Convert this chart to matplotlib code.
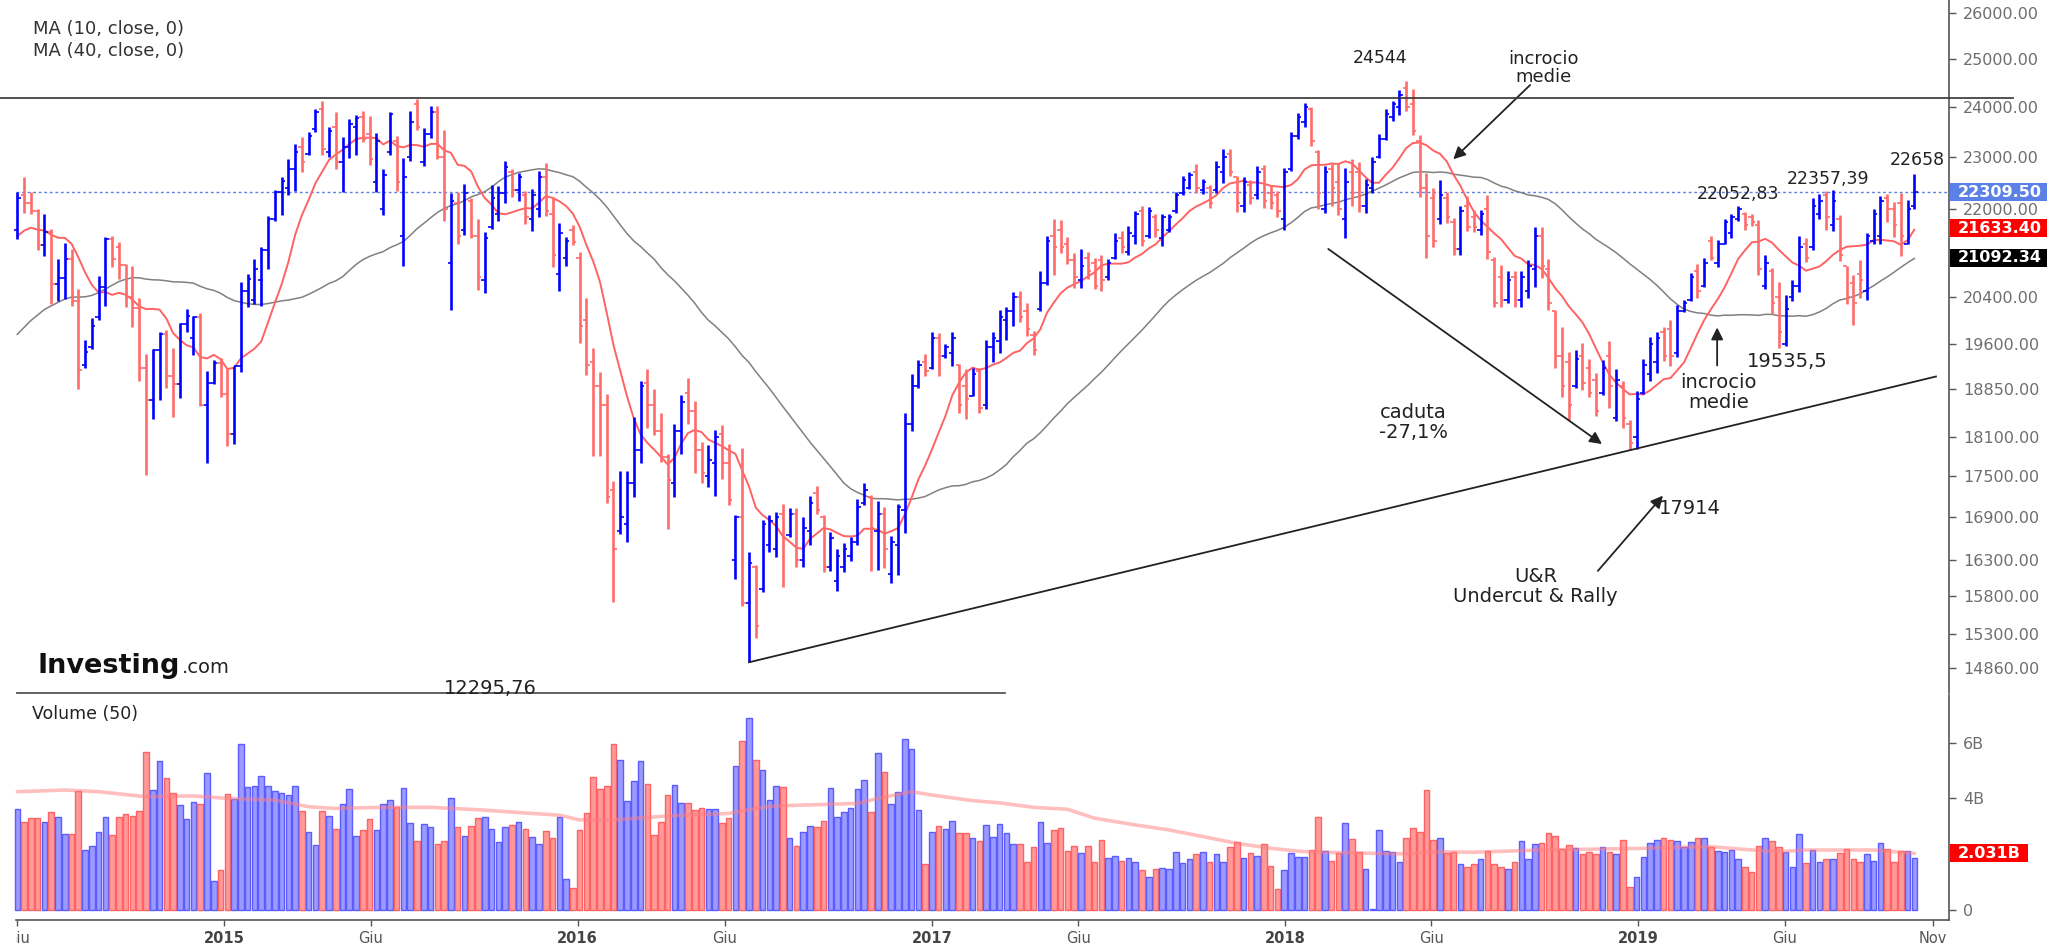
import numpy as np
import pandas as pd
import matplotlib
matplotlib.use("Agg")
import matplotlib.pyplot as plt
from matplotlib.ticker import NullLocator, FixedLocator
from matplotlib.transforms import Bbox, TransformedBbox
from matplotlib.lines import Line2D
from matplotlib.patches import Rectangle

# ---------------- data (weekly bars, FTSE MIB) ----------------
first_week = "2014-06-01"

opens = [
    21600, 22250, 22100, 21950, 21330, 21560, 20620, 20736, 21077, 20338,
    19250, 19550, 20050, 20581, 21438, 21300, 20970, 20408, 20201, 19198,
    18683, 19493, 19759, 19067, 18940, 19930, 19700, 20050, 18604, 18959,
    19282, 18779, 18152, 19231, 20512, 20350, 20700, 21236, 21805, 22315,
    22400, 22750, 23200, 23050, 23550, 23950, 23100, 23600, 22900, 23200,
    23600, 23800, 23450, 22500, 22000, 23100, 23300, 21500, 23000, 24050,
    22900, 23450, 23900, 23000, 21000, 22100, 21600, 22150, 21500, 20700,
    21650, 21900, 22300, 22700, 22350, 22250, 21800, 22000, 22600, 21900,
    20800, 21100, 21600, 21100, 20000, 19300, 18900, 18600, 17300, 16700,
    16800, 17400, 17900, 18950, 18600, 18200, 17800, 17400, 18200, 18800,
    18500, 17900, 17500, 17700, 18150, 17700, 16300, 16900, 15700, 16200,
    15900, 16500, 16450, 16950, 16650, 16950, 16300, 16700, 17250, 16900,
    16200, 16000, 16200, 16350, 16550, 17100, 17200, 16700, 16950, 16100,
    16500, 17000, 18300, 18900, 19300, 19200, 19700, 19400, 19450, 19250,
    18900, 18750, 19150, 18600, 19550, 19650, 20000, 20150, 20400, 20150,
    19750, 20200, 20650, 21500, 21600, 21350, 21050, 20700, 21100, 21000,
    21050, 20750, 21100, 21450, 21200, 21500, 21950, 21500, 21850, 21450,
    21600, 21950, 22300, 22400, 22700, 22350, 22400, 22350, 22700, 23050,
    22600, 22050, 22450, 22250, 22750, 22300, 22250, 21800, 22750, 23400,
    23700, 23950, 23100, 22000, 22750, 22500, 21800, 22700, 22700, 22050,
    22400, 23000, 23350, 23800, 24000, 24400, 24050, 23300, 22400, 22200,
    21800, 22200, 21750, 21250, 22050, 21850, 21600, 22000, 21050, 20750,
    20350, 20750, 20350, 20500, 20900, 21500, 20900, 20150, 19400, 19300,
    18900, 19400, 19200, 19000, 18800, 19400, 18400, 18900, 18300, 18100,
    18800, 19100, 19300, 19800, 19850, 19450, 20150, 20350, 20850, 20600,
    21400, 21000, 21350, 21550, 21800, 21900, 21850, 21700, 20600, 20850,
    20400, 19600, 20400, 20600, 21350, 21300, 21900, 22250, 21700, 21800,
    20950, 20650, 20800, 20500, 21400, 21500, 22200, 22000, 22100, 21350,
    22050]

highs = [
    22308, 22611, 22308, 21992, 21895, 21620, 21077, 21365, 21257, 20546,
    19659, 20030, 20771, 21474, 21489, 21380, 20984, 20949, 20387, 19426,
    19506, 19793, 19826, 19526, 19950, 20186, 20077, 20131, 19151, 19328,
    19361, 19198, 19231, 20665, 20806, 21077, 21293, 21856, 22345, 22597,
    22945, 23245, 23380, 23481, 23958, 24128, 23593, 23886, 23393, 23754,
    23834, 23918, 23818, 23473, 22765, 23900, 23417, 22968, 23918, 24160,
    23561, 24022, 24022, 23520, 22292, 22308, 22467, 22201, 21805, 21562,
    22443, 22421, 22906, 22750, 22690, 22330, 22368, 22727, 22883, 22216,
    21731, 21474, 21694, 21207, 20387, 19526, 19132, 18779, 17427, 17587,
    17587, 18412, 18990, 19184, 18857, 18474, 17846, 18306, 18760, 19035,
    18665, 18028, 17981, 18215, 18290, 17998, 16937, 17938, 16409, 16228,
    16856, 16937, 16978, 17099, 17027, 17027, 16902, 17203, 17355, 16931,
    16690, 16448, 16533, 16617, 17162, 17396, 17220, 17133, 17047, 16630,
    17093, 18474, 19100, 19328, 19426, 19806, 19779, 19593, 19793, 19264,
    19177, 19198, 19198, 19659, 19793, 20179, 20235, 20491, 20510, 20300,
    19813, 20850, 21500, 21806, 21789, 21475, 21174, 21255, 21199, 21093,
    21150, 21077, 21541, 21581, 21681, 21959, 22059, 22026, 21892, 21892,
    21892, 22323, 22616, 22704, 22853, 22572, 22451, 22923, 23152, 23152,
    22623, 22598, 22538, 22817, 22835, 22442, 22340, 22773, 23483, 23874,
    24074, 24002, 23124, 22817, 22861, 22878, 22773, 22948, 22904, 22572,
    22992, 23456, 23966, 24121, 24354, 24544, 24373, 23437, 22686, 22383,
    22538, 22315, 21832, 22043, 22230, 21975, 21975, 22256, 21118, 20970,
    20850, 20850, 20850, 21053, 21665, 21665, 21069, 20182, 19889, 19458,
    19496, 19609, 19346, 19111, 19325, 19646, 19176, 18980, 18371, 18820,
    19346, 19722, 19798, 19889, 20004, 20261, 20354, 20828, 20986, 21093,
    21500, 21418, 21806, 21892, 22052, 21942, 21892, 21789, 21150, 20905,
    20668, 20433, 20692, 21500, 21459, 22195, 22280, 22340, 22357, 21875,
    20954, 20795, 21053, 21550, 22001, 22237, 22280, 22127, 22297, 22170,
    22658]

lows = [
    21438, 21917, 21895, 21236, 21130, 20270, 20338, 20373, 20248, 18855,
    19198, 19506, 19996, 20248, 20935, 20722, 20235, 19880, 18983, 17515,
    18387, 18683, 18873, 18412, 18715, 19806, 19413, 18589, 17696, 18940,
    18728, 17955, 17998, 19132, 20222, 20270, 20248, 20899, 21768, 21880,
    22255, 22330, 22691, 23023, 23497, 23039, 22984, 22750, 22308, 22968,
    23023, 23298, 22843, 22308, 21880, 23023, 22330, 20949, 22906, 23520,
    22812, 23377, 22945, 21768, 20167, 21351, 21511, 21453, 20527, 20477,
    21620, 21768, 22104, 22216, 22142, 21709, 21582, 21840, 21854, 20935,
    20512, 20949, 21329, 19612, 19087, 17815, 17815, 17111, 15713, 16656,
    16545, 17191, 17696, 18243, 18127, 17713, 16730, 17191, 17846, 18306,
    17558, 17396, 17337, 17203, 17456, 17082, 16035, 15659, 14930, 15238,
    15856, 16409, 16337, 15926, 16617, 16199, 16199, 16505, 16943, 16133,
    16144, 15862, 16127, 16281, 16505, 17082, 16144, 16161, 16183, 15982,
    16088, 16673, 18196, 18873, 19067, 19177, 19067, 19361, 19231, 18481,
    18381, 18747, 18481, 18545, 19296, 19440, 19659, 19893, 19966, 19737,
    19420, 20166, 20612, 20793, 21174, 20987, 20557, 20557, 20716, 20534,
    20510, 20692, 21069, 21174, 21150, 21337, 21313, 21460, 21475, 21313,
    21557, 21917, 22256, 22368, 22297, 22280, 22018, 22297, 22495, 22623,
    21942, 21942, 22084, 22186, 22018, 22001, 21850, 21607, 22712, 23348,
    23599, 23214, 22000, 21917, 22043, 21875, 21460, 22043, 21942, 21917,
    22297, 22974, 23331, 23710, 23830, 23920, 23420, 22212, 21093, 21296,
    21706, 21723, 21150, 21150, 21581, 21557, 21517, 21069, 20235, 20235,
    20300, 20235, 20235, 20379, 20573, 20732, 20182, 19199, 18727, 18371,
    18871, 18834, 18727, 18420, 18762, 18547, 18350, 18245, 17896, 17914,
    18776, 18980, 19111, 19311, 19239, 19385, 20143, 20323, 20377, 20573,
    21053, 20929, 21337, 21460, 21772, 21607, 21673, 20793, 20534, 20103,
    19535, 19557, 20339, 20494, 21013, 21231, 21808, 21607, 21581, 21036,
    20278, 19912, 20377, 20354, 21337, 21337, 21748, 21475, 21134, 21337,
    22001]

closes = [
    22200, 22100, 21950, 21330, 21560, 20620, 20736, 21077, 20338, 19164,
    19459, 19893, 20581, 21438, 21077, 20970, 20408, 20201, 19198, 18683,
    19493, 19759, 19067, 18940, 19930, 20080, 20050, 18604, 18959, 19282,
    18779, 18152, 19231, 20512, 20722, 20900, 21236, 21805, 22315, 22520,
    22750, 23100, 22900, 23400, 23900, 23150, 23500, 22900, 23200, 23650,
    23780, 23350, 22950, 23300, 22650, 23850, 22500, 22600, 23700, 23600,
    23450, 23900, 23000, 22000, 22150, 21500, 22300, 21500, 20750, 21450,
    22200, 22300, 22800, 22350, 22600, 21850, 22250, 22600, 21950, 21150,
    21550, 21400, 21380, 19900, 19250, 18900, 18600, 17200, 16450, 16900,
    17400, 17900, 18900, 18600, 18200, 17800, 17450, 18200, 18650, 18500,
    17900, 17550, 17750, 18100, 17700, 17150, 16900, 15700, 16250, 15400,
    16800, 16850, 16900, 16600, 16950, 16300, 16750, 17100, 17000, 16200,
    16600, 16350, 16450, 16550, 17050, 17300, 16750, 16950, 16450, 16550,
    17050, 18300, 18900, 19250, 19150, 19700, 19400, 19550, 19700, 18600,
    18700, 19100, 18550, 19550, 19700, 20050, 20150, 20400, 20050, 19850,
    19500, 20650, 21400, 21300, 21300, 21050, 20750, 20950, 20850, 20600,
    20700, 21000, 21400, 21300, 21550, 21900, 21400, 21950, 21600, 21850,
    21850, 22250, 22550, 22650, 22400, 22500, 22100, 22800, 23000, 22700,
    22100, 22500, 22200, 22700, 22150, 22100, 21950, 22700, 23400, 23800,
    24000, 23300, 22300, 22700, 22400, 22000, 22500, 22300, 22050, 22450,
    22900, 23350, 23850, 24050, 24250, 24000, 23500, 22400, 21500, 21400,
    22250, 21850, 21250, 21950, 21650, 21650, 21900, 21200, 20300, 20350,
    20700, 20350, 20750, 20950, 21500, 20950, 20300, 19400, 18900, 18600,
    19350, 18950, 18800, 18500, 19200, 18900, 19000, 18400, 18000, 18700,
    19250, 19600, 19700, 19400, 19400, 20150, 20300, 20750, 20500, 21000,
    21100, 21350, 21750, 21850, 22000, 21700, 21750, 20900, 21000, 20300,
    19800, 20200, 20600, 21300, 21100, 22050, 22150, 21850, 22150, 21150,
    20400, 20300, 20700, 21500, 21900, 22150, 22000, 21700, 21500, 22000,
    22309.5]

# closes of the 39 weeks before the first visible bar (needed by the 40-week average)
pre_closes = [
    17400, 17300, 17500, 17800, 18100, 18400, 18700, 19000, 19100, 19300,
    18900, 18700, 18800, 18500, 18300, 18800, 19100, 19300, 19600, 20000,
    19900, 19600, 19700, 20000, 20400, 20600, 20800, 20700, 20400, 20800,
    21100, 21400, 21700, 21700, 21400, 21300, 21100, 21400, 21600]

volumes_bn = [
    3.61, 3.16, 3.29, 3.29, 3.16, 3.50, 3.35, 2.72, 2.72, 4.25,
    2.15, 2.29, 2.81, 3.32, 2.69, 3.32, 3.43, 3.37, 3.55, 5.67,
    4.30, 5.34, 4.72, 4.20, 3.76, 3.25, 3.86, 3.81, 4.90, 1.04,
    1.42, 4.16, 3.99, 5.94, 4.40, 4.46, 4.80, 4.46, 4.27, 4.20,
    4.11, 4.46, 3.55, 2.81, 2.33, 3.55, 3.37, 2.90, 3.80, 4.34,
    2.65, 2.87, 3.26, 2.87, 3.80, 3.94, 3.69, 4.39, 3.11, 2.47,
    3.08, 2.99, 2.38, 2.47, 4.03, 2.99, 2.65, 3.02, 3.31, 3.34,
    2.90, 2.43, 2.99, 3.04, 3.15, 2.90, 2.60, 2.38, 2.84, 2.59,
    3.34, 1.11, 0.78, 2.85, 3.46, 4.75, 4.34, 4.46, 5.94, 5.37,
    3.90, 4.62, 5.33, 4.50, 2.68, 3.15, 4.11, 4.49, 3.85, 3.85,
    3.58, 3.64, 3.63, 3.61, 3.11, 3.29, 5.16, 6.07, 6.87, 5.37,
    5.02, 3.94, 4.46, 4.42, 2.59, 2.29, 2.81, 3.02, 2.99, 3.19,
    4.37, 3.32, 3.50, 3.67, 4.33, 4.67, 3.51, 5.64, 4.95, 3.80,
    4.24, 6.14, 5.76, 3.58, 1.65, 2.81, 3.02, 2.89, 3.20, 2.75,
    2.75, 2.59, 2.49, 3.04, 2.63, 3.07, 2.77, 2.37, 2.37, 1.72,
    2.25, 3.15, 2.41, 2.86, 2.95, 2.11, 2.29, 2.03, 2.29, 1.72,
    2.51, 1.85, 1.95, 1.77, 1.85, 1.72, 1.42, 1.17, 1.47, 1.52,
    1.47, 2.07, 1.67, 1.82, 1.99, 2.07, 1.73, 1.99, 1.72, 2.25,
    2.42, 1.85, 2.03, 1.95, 2.38, 1.59, 0.74, 1.43, 2.03, 1.89,
    1.91, 2.15, 3.33, 2.11, 1.77, 2.03, 3.11, 2.54, 2.07, 1.47,
    0.02, 2.86, 2.11, 2.07, 1.72, 2.59, 2.95, 2.81, 4.29, 2.51,
    2.59, 2.03, 2.07, 1.65, 1.55, 1.65, 1.82, 2.11, 1.65, 1.53,
    1.47, 1.72, 2.47, 1.82, 2.38, 2.41, 2.77, 2.65, 2.20, 2.33,
    2.21, 1.99, 2.07, 1.99, 2.25, 2.07, 1.99, 2.51, 0.81, 1.19,
    1.90, 2.41, 2.50, 2.59, 2.50, 2.47, 2.25, 2.45, 2.59, 2.59,
    2.25, 2.11, 2.08, 2.14, 1.82, 1.55, 1.37, 2.29, 2.59, 2.47,
    2.25, 2.07, 1.55, 2.72, 1.67, 2.15, 1.72, 1.82, 1.82, 2.03,
    2.20, 1.82, 1.72, 1.99, 1.77, 2.41, 2.20, 1.72, 2.11, 2.11,
    1.85]

# 50-week volume average (week index, billions)
vol_ma_week = [0, 7, 12, 19, 26, 31, 38, 43, 47, 54, 61, 69, 76, 80, 83, 88, 96, 105,
               109, 112, 124, 127, 132, 135, 141, 145, 150, 155, 159, 165, 170, 175,
               180, 185, 190, 200, 205, 210, 215, 225, 230, 240, 245, 250, 255, 260,
               264, 274, 280]
vol_ma_bn = [4.24, 4.30, 4.24, 4.06, 4.09, 4.00, 3.94, 3.70, 3.64, 3.68, 3.68, 3.58,
             3.46, 3.40, 3.23, 3.23, 3.37, 3.46, 3.64, 3.73, 3.82, 4.00, 4.24, 4.12,
             3.92, 3.84, 3.68, 3.61, 3.29, 3.05, 2.87, 2.63, 2.39, 2.21, 2.09, 2.03,
             2.01, 2.09, 2.07, 2.15, 2.17, 2.21, 2.25, 2.27, 2.17, 2.09, 2.15, 2.15,
             2.03]

price_ticks = [26000, 25000, 24000, 23000, 22000, 21200, 20400, 19600, 18850,
               18100, 17500, 16900, 16300, 15800, 15300, 14860]
# 21200 sits under the value boxes in the original, so its label is not shown
hidden_price_ticks = [21200]
vol_ticks = [0, 2, 4, 6]
vol_tick_labels = ["0", "", "4B", "6B"]   # "2B" is covered by the 2.031B box

x_label_dates = ["2014-06-01", "2015-01-01", "2015-06-01", "2016-01-01", "2016-06-01",
                 "2017-01-01", "2017-06-01", "2018-01-01", "2018-06-01", "2019-01-01",
                 "2019-06-01", "2019-11-01"]
x_labels = ["Giu", "2015", "Giu", "2016", "Giu", "2017", "Giu", "2018", "Giu", "2019",
            "Giu", "Nov"]

last_price = 22309.50
ma10_last_label = 21633.40
ma40_last_label = 21092.34
vol_ma_last_label = 2.031
resistance_level = 24185

# ---------------- figure ----------------
W, H = 2057, 943
fig = plt.figure(figsize=(W / 100, H / 100), dpi=100)
fig.patch.set_facecolor("white")

def fx(px):
    return px / W

def fy(py):
    return 1 - py / H

STEP = 6.775          # px per week
X0 = 17.3             # px of first bar
AX_R = 1949           # px of right axis line
xlim = (-X0 / STEP, (AX_R - X0) / STEP)

ax = fig.add_axes([0, fy(693), fx(AX_R), 693 / H])
axv = fig.add_axes([0, fy(920), fx(AX_R), (920 - 695) / H])

BLUE = "#0000ff"
RED = "#ff6b6b"

o = np.array(opens, float)
h = np.array(highs, float)
l = np.array(lows, float)
c = np.array(closes, float)
n = len(c)
idx = np.arange(n)
up = c >= o
cols = np.where(up, BLUE, RED)

# moving averages
allc = pd.Series(np.concatenate([pre_closes, c]))
ma10 = allc.rolling(10).mean().values[len(pre_closes):]
ma40 = allc.rolling(40).mean().values[len(pre_closes):]

ax.set_yscale("log")
ax.set_xlim(*xlim)
ax.set_ylim(14543, 26295)

ax.plot(idx, ma40, color="#808080", lw=1.1, zorder=2)
ax.plot(idx, ma10, color="#ff6262", lw=1.4, zorder=2)

ax.vlines(idx, l, h, colors=cols, lw=1.9, zorder=3)
ax.hlines(o, idx - 0.5, idx, colors=cols, lw=1.2, zorder=3)
ax.hlines(c, idx, idx + 0.5, colors=cols, lw=1.2, zorder=3)

# horizontal lines
ax.plot([xlim[0], (2013 - X0) / STEP], [resistance_level] * 2, color="#333333",
        lw=1.2, clip_on=False, zorder=4)
ax.plot([-0.2, xlim[1]], [last_price] * 2, color="#5b80e6", lw=1.0,
        ls=(0, (2, 2)), zorder=1)

# trend line
ax.plot([108, 283.2], [14930, 19060], color="#222222", lw=1.3, zorder=4)

arrow_kw = dict(arrowstyle="-|>", color="#222222", lw=1.3, mutation_scale=18,
                shrinkA=0, shrinkB=0)
ax.annotate("", xy=(233.9, 17991), xytext=(193.5, 21255), arrowprops=arrow_kw)
ax.annotate("", xy=(211.95, 22949), xytext=(223.3, 24453), arrowprops=arrow_kw)
ax.annotate("", xy=(250.9, 19876), xytext=(250.9, 19240), arrowprops=arrow_kw)
ax.annotate("", xy=(242.9, 17215), xytext=(233.3, 16143), arrowprops=arrow_kw)

ann_color = "#222222"
def note(x, y, s, size=13.5):
    ax.text(x, y, s, ha="center", va="center", fontsize=size, color=ann_color,
            linespacing=1.05, zorder=5)

note(201.1, 25019, "24544", 12.5)
note(225.2, 24812, "incrocio\nmedie", 13)
note(254.0, 22272, "22052,83", 12.5)
note(267.3, 22573, "22357,39", 12.5)
note(280.4, 22941, "22658", 12.5)
note(261.2, 19312, "19535,5", 14)
note(251.1, 18800, "incrocio\nmedie", 14)
note(206.1, 18326, "caduta\n-27,1%", 14)
note(246.9, 17020, "17914", 14)
note(224.1, 15924, "U&R\nUndercut & Rally", 14)

# axes styling (price)
for s in ["left", "top", "bottom"]:
    ax.spines[s].set_visible(False)
ax.spines["right"].set_color("#555555")
ax.spines["right"].set_linewidth(1.2)
ax.set_xticks([])
ax.yaxis.tick_right()
ax.yaxis.set_major_locator(FixedLocator(price_ticks))
ax.yaxis.set_minor_locator(NullLocator())
ax.set_yticklabels(["" if v in hidden_price_ticks else "%.2f" % v for v in price_ticks])
ax.tick_params(axis="y", which="major", direction="out", length=5, width=1,
               color="#555555", labelsize=11.5, labelcolor="#6e6e6e", pad=5)

# ---------------- volume ----------------
v = np.array(volumes_bn, float)
vface = np.where(up, "#9a9aff", "#ff9a9a")
vedge = np.where(up, "#5c5cff", "#ff6262")
axv.bar(idx, v, width=0.82, color=vface, edgecolor=vedge, linewidth=1.0, zorder=2)
axv.plot(vol_ma_week, vol_ma_bn, color="#ff8080", alpha=0.5, lw=2.6,
         solid_capstyle="round", zorder=3)
axv.set_xlim(*xlim)
axv.set_ylim(-(920 - 910) / 27.9, (910 - 695) / 27.9)
for s in ["left", "top"]:
    axv.spines[s].set_visible(False)
for s in ["right", "bottom"]:
    axv.spines[s].set_color("#555555")
    axv.spines[s].set_linewidth(1.2)
axv.spines["bottom"].set_bounds((16 - X0) / STEP, xlim[1])
axv.yaxis.tick_right()
axv.set_yticks(vol_ticks)
axv.set_yticklabels(vol_tick_labels)
axv.tick_params(axis="y", direction="out", length=5, width=1, color="#555555",
                labelsize=11.5, labelcolor="#6e6e6e", pad=5)

start = pd.Timestamp(first_week)
xpos = [(pd.Timestamp(d) - start).days / 7.0 for d in x_label_dates]
axv.set_xticks(xpos)
axv.set_xticklabels(x_labels)
axv.tick_params(axis="x", direction="out", length=4, width=1, color="#555555",
                labelsize=10.5, labelcolor="#555555", pad=4)
for lab, txt in zip(axv.get_xticklabels(), x_labels):
    if txt.isdigit():
        lab.set_fontweight("bold")
        lab.set_color("#444444")
clipbox = TransformedBbox(Bbox.from_extents(16 / W, 0, 1, 1), fig.transFigure)
first_tick = axv.xaxis.get_major_ticks()[0]
first_tick.label1.set_clip_on(True)
first_tick.label1.set_clip_box(clipbox)

# ---------------- value boxes on the right axis ----------------
def add_box(axis, value, text, color, width):
    ypix = axis.transData.transform((0, value))[1]
    fig.add_artist(Rectangle((fx(AX_R + 1), (ypix - 9) / H), width / W, 18 / H,
                             transform=fig.transFigure, facecolor=color,
                             edgecolor="none", zorder=10))
    fig.text(fx(AX_R + 9), ypix / H, text, ha="left", va="center", fontsize=11.5,
             color="white", fontweight="bold", zorder=11)

add_box(ax, last_price, "%.2f" % last_price, "#5b80e6", 97)
add_box(ax, ma10_last_label, "%.2f" % ma10_last_label, "#ff0000", 97)
add_box(ax, ma40_last_label, "%.2f" % ma40_last_label, "#000000", 97)
add_box(axv, vol_ma_last_label, "%.3fB" % vol_ma_last_label, "#ff0000", 78)

# ---------------- texts / separators ----------------
fig.text(fx(33), fy(29), "MA (10, close, 0)", fontsize=13, color="#333333",
         va="center", ha="left")
fig.text(fx(33), fy(51), "MA (40, close, 0)", fontsize=13, color="#333333",
         va="center", ha="left")
fig.text(fx(32), fy(714), "Volume (50)", fontsize=12.5, color="#222222",
         va="center", ha="left")

fig.add_artist(Line2D([fx(17), fx(1005)], [fy(693), fy(693)], color="#555555",
                      lw=1.3, transform=fig.transFigure))
fig.text(fx(490), fy(689), "12295,76", fontsize=14, color="#222222",
         ha="center", va="center")

t1 = fig.text(fx(38), fy(673), "Investing", fontsize=19.5, fontweight="bold",
              color="#111111", ha="left", va="baseline")
renderer = fig.canvas.get_renderer()
bb = t1.get_window_extent(renderer)
fig.text(bb.x1 / W + 1 / W, fy(673), ".com", fontsize=14, color="#222222",
         ha="left", va="baseline")

fig.savefig("out.png", dpi=100, facecolor="white")
